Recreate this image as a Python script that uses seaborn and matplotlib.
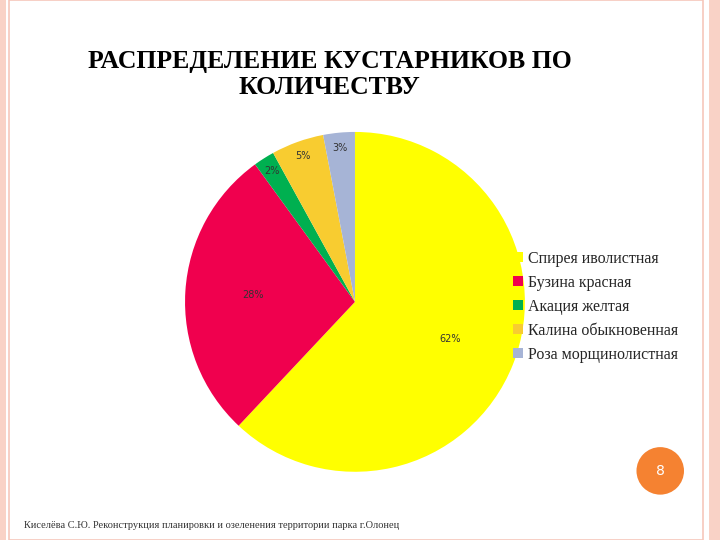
import matplotlib
matplotlib.use("Agg")
import matplotlib.pyplot as plt
import seaborn as sns
from matplotlib.patches import Rectangle, Ellipse
import numpy as np

sns.set_theme(style="white")
plt.rcParams['font.family'] = ['Liberation Serif', 'DejaVu Serif']

shrubs = ['Спирея иволистная', 'Бузина красная', 'Акация желтая',
          'Калина обыкновенная', 'Роза морщинолистная']
shares = [62, 28, 2, 5, 3]
colors = ['#ffff00', '#f0004e', '#00b050', '#f8cc30', '#a6b4d6']

fig = plt.figure(figsize=(7.2, 5.4), dpi=100)
fig.patch.set_facecolor('white')

# slide frame
fig.add_artist(Rectangle((0.012, 0.0), 0.965, 1.0, transform=fig.transFigure,
                         fill=False, ec='#f6c7bb', lw=1.2))
fig.add_artist(Rectangle((0.985, 0.0), 0.015, 1.0, transform=fig.transFigure,
                         fc='#f9d2c6', ec='none'))
fig.add_artist(Rectangle((0.0, 0.0), 0.008, 1.0, transform=fig.transFigure,
                         fc='#f9d2c6', ec='none'))

fig.text(0.458, 0.862, 'РАСПРЕДЕЛЕНИЕ КУСТАРНИКОВ ПО\nКОЛИЧЕСТВУ',
         ha='center', va='center', fontsize=18.5, fontweight='bold',
         linespacing=1.2, color='black')

ax = fig.add_axes([0.257, 0.126, 0.472, 0.63])
wedges, texts, autotexts = ax.pie(shares, colors=colors, startangle=90,
                                  counterclock=False, autopct='%d%%',
                                  wedgeprops=dict(linewidth=0),
                                  textprops=dict(fontsize=7, color='#333333',
                                                 family='DejaVu Sans'))
ax.set_xlim(-1, 1)
ax.set_ylim(-1, 1)
ax.set_aspect('equal')
for w, t, s in zip(wedges, autotexts, shares):
    ang = np.deg2rad((w.theta1 + w.theta2) / 2)
    r = 0.6 if s > 10 else 0.91
    t.set_position((r * np.cos(ang), r * np.sin(ang)))

fig.legend(wedges, shrubs, loc='upper left', bbox_to_anchor=(0.693, 0.562),
           frameon=False, fontsize=11.5, handlelength=0.6, handleheight=0.6,
           labelspacing=0.5, handletextpad=0.3)

fig.add_artist(Ellipse((0.917, 0.128), 0.066, 0.088, transform=fig.transFigure,
                       fc='#f58231', ec='none'))
fig.text(0.917, 0.128, '8', ha='center', va='center', color='white',
         fontsize=10, family='DejaVu Sans')
fig.text(0.033, 0.018, 'Киселёва С.Ю. Реконструкция планировки и озеленения территории парка г.Олонец',
         fontsize=7.5, color='#333333', ha='left', va='bottom')

fig.savefig('out.png', dpi=100)
